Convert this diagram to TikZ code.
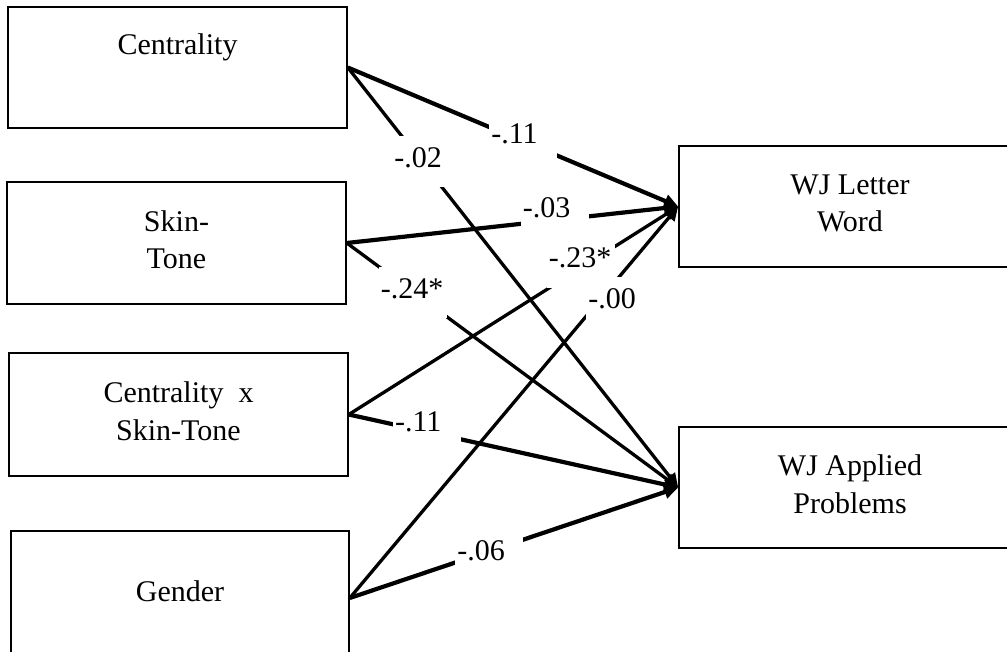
\documentclass[tikz,border=0pt]{standalone}
\usepackage{fontspec}
\setmainfont{Liberation Serif}
\usetikzlibrary{arrows.meta}

\begin{document}
\begin{tikzpicture}[x=1pt, y=-1pt, font=\fontsize{30}{37.5}\selectfont,
    var/.style={draw, line width=1.6pt, inner sep=0pt, minimum width=339pt, align=center},
    outcome/.style={draw, line width=1.6pt, inner sep=0pt, minimum width=342pt, minimum height=121pt, align=center, text depth=7pt},
    thickpath/.style={line width=4.2pt, -{Triangle[length=14pt, width=13pt]}},
    thinpath/.style={line width=3.3pt, -{Triangle[length=14pt, width=13pt]}},
    coef/.style={fill=white, anchor=base west, inner xsep=2pt, inner ysep=0pt, text width=64pt, align=left, text height=31pt, text depth=20pt}]
            \clip (0,0) rectangle (1007,651);

            % Predictors
            \node[var, text height=47pt, text depth=74pt] (cent) at (177.5,67.5) {Centrality};
            \node[var, minimum height=122pt, text depth=7pt] (skin) at (176.5,243) {Skin-\\Tone};
            \node[var, minimum height=123pt, text depth=7pt] (cxs) at (178.5,414.5) {Centrality~~x\\Skin-Tone};
            \node[var, minimum width=338pt, text height=70pt, text depth=64pt] (gender) at (180,598) {Gender};

            % Outcomes
            \node[outcome] (letter) at (850,206.5) {WJ Letter\\Word};
            \node[outcome] (applied) at (850,487.5) {WJ Applied\\Problems};

            % Paths
            \draw[thickpath] (cent.east) -- node[coef, pos=0.422, yshift=-17pt] {-.11} (letter.west);
            \draw[thinpath] (cent.east) -- node[coef, pos=0.13, yshift=-45pt] {-.02} (applied.west);
            \draw[thickpath] (skin.east) -- node[coef, pos=0.519, yshift=7pt] {-.03} (letter.west);
            \draw[thinpath] (skin.east) -- node[coef, pos=0.092, yshift=-32.6pt] {-.24*} (applied.west);
            \draw[thinpath] (cxs.east) -- node[coef, pos=0.596, yshift=22.6pt] {-.23*} (letter.west);
            \draw[thinpath] (gender.east) -- node[coef, pos=0.715, yshift=10pt] {-.00} (letter.west);
            \draw[thickpath] (cxs.east) -- node[coef, pos=0.128, yshift=-8pt] {-.11} (applied.west);
            \draw[thickpath] (gender.east) -- node[coef, pos=0.315, yshift=3pt] {-.06} (applied.west);
        \end{tikzpicture}
\end{document}
